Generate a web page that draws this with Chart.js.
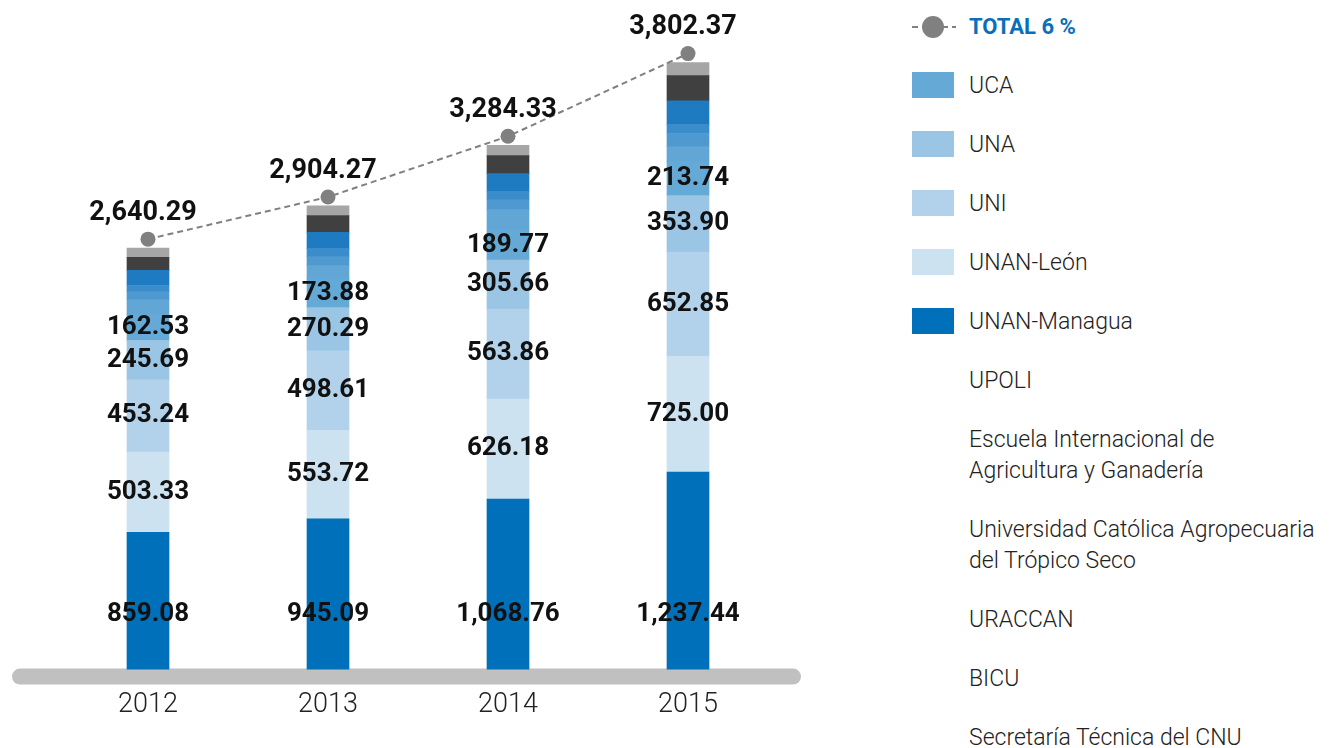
<!DOCTYPE html>
<html>
<head>
<meta charset="utf-8">
<script src="https://cdn.jsdelivr.net/npm/chart.js@4.4.0/dist/chart.umd.min.js"></script>
<style>
    body { margin: 0; background: #fff; width: 1333px; height: 748px; overflow: hidden; position: relative; font-family: Roboto, sans-serif; }
    #chartBox { position: absolute; left: 0; top: 0; width: 880px; height: 748px; }
    #legend { position: absolute; left: 912px; top: 11px; }
    .item { display: flex; align-items: flex-start; margin-bottom: 28px; }
    .key { width: 42px; height: 26px; margin-right: 15px; margin-top: 2px; flex: none; }
    .name { font-size: 23px; font-weight: 300; line-height: 31px; color: #222; }
    .name.total { font-weight: 700; color: #0a6fba; font-size: 22px; }
</style>
</head>
<body>
<div id="chartBox"><canvas id="fundsChart"></canvas></div>
<div id="legend"></div>

<script>
const years = ['2012', '2013', '2014', '2015'];

// stacked from the bottom up
const unanManagua = [859.08, 945.09, 1068.76, 1237.44];
const unanLeon = [503.33, 553.72, 626.18, 725.00];
const uni = [453.24, 498.61, 563.86, 652.85];
const una = [245.69, 270.29, 305.66, 353.90];
const uca = [162.53, 173.88, 189.77, 213.74];
// small segments are not labelled
const upoli = [93, 89, 127, 93];
const eiag = [51, 56, 62, 82];
const ucatse = [38, 52, 53, 57];
const uraccan = [95, 101, 110, 148];
const bicu = [82, 105, 113, 158];
const secretaria = [57.42, 59.68, 65.10, 81.44];

const totals = [2640.29, 2904.27, 3284.33, 3802.37];

const seriesNames = [
    'UNAN-Managua', 'UNAN-León', 'UNI', 'UNA', 'UCA', 'UPOLI',
    'Escuela Internacional de\nAgricultura y Ganadería',
    'Universidad Católica Agropecuaria\ndel Trópico Seco',
    'URACCAN', 'BICU', 'Secretaría Técnica del CNU'
];
const seriesValues = [unanManagua, unanLeon, uni, una, uca, upoli, eiag, ucatse, uraccan, bicu, secretaria];
const seriesColors = ['#0070ba', '#cde2f1', '#b1d2ea', '#9bc5e5', '#65a9d7', '#62a6d6', '#4e99d0', '#3b8ccb', '#1f7bc1', '#404040', '#a6a6a6'];
const labelledSeries = 5;
const totalLabel = 'TOTAL 6 %';

Chart.defaults.font.family = "Roboto, 'Noto Sans', sans-serif";

function fmt(v) {
    return Number(v).toLocaleString('en-US', { minimumFractionDigits: 2, maximumFractionDigits: 2 });
}

const baselinePlugin = {
    id: 'baseline',
    beforeDatasetsDraw(chart) {
        const { ctx } = chart;
        const x = chart.scales.x;
        const y = chart.scales.y;
        const left = x.getPixelForValue(0) - 136;
        const right = x.getPixelForValue(years.length - 1) + 113;
        const top = y.bottom - 1;
        const h = 16;
        ctx.save();
        ctx.fillStyle = '#c0c0c0';
        ctx.beginPath();
        ctx.roundRect(left, top, right - left, h, h / 2);
        ctx.fill();
        ctx.restore();
    }
};

const valueLabelPlugin = {
    id: 'valueLabels',
    afterDatasetsDraw(chart) {
        const { ctx } = chart;
        const yScale = chart.scales.y;
        ctx.save();
        ctx.font = 'bold 26px Roboto';
        ctx.fillStyle = '#111';
        ctx.textAlign = 'center';
        ctx.textBaseline = 'middle';
        for (let i = 0; i < labelledSeries; i++) {
            const meta = chart.getDatasetMeta(i);
            meta.data.forEach((bar, j) => {
                const y = i === 0 ? yScale.bottom - 55 : (bar.y + bar.base) / 2;
                ctx.fillText(fmt(seriesValues[i][j]), bar.x, y);
            });
        }
        ctx.font = 'bold 27px Roboto';
        const lineMeta = chart.getDatasetMeta(seriesValues.length);
        lineMeta.data.forEach((pt, j) => {
            ctx.fillText(fmt(totals[j]), pt.x - 5, pt.y - 26);
        });
        ctx.restore();
    }
};

const barSets = seriesValues.map((data, i) => ({
    type: 'bar',
    label: seriesNames[i],
    data,
    backgroundColor: seriesColors[i],
    borderWidth: 0,
    barThickness: 42,
    yAxisID: 'y',
    order: 1
}));

const totalSet = {
    type: 'line',
    label: totalLabel,
    data: totals,
    borderColor: '#808080',
    borderWidth: 2,
    borderDash: [6, 4],
    pointRadius: 7.5,
    pointBackgroundColor: '#808080',
    pointBorderWidth: 0,
    yAxisID: 'yLine',
    order: 0
};

new Chart(document.getElementById('fundsChart'), {
    data: { labels: years, datasets: [...barSets, totalSet] },
    options: {
        responsive: true,
        maintainAspectRatio: false,
        animation: false,
        layout: { padding: { left: 58, right: 102, top: 31, bottom: 16 } },
        plugins: { legend: { display: false }, tooltip: { enabled: false } },
        scales: {
            x: {
                stacked: true,
                grid: { display: false },
                border: { display: false },
                ticks: { color: '#222', padding: 11, font: { size: 27, weight: 300 } }
            },
            y: { stacked: true, display: false, min: 0, max: 4000 },
            yLine: { display: false, min: -56, max: 3944 }
        }
    },
    plugins: [baselinePlugin, valueLabelPlugin]
});

function buildLegend() {
    const box = document.getElementById('legend');
    const rows = [];
    rows.push(`<div class="item"><svg class="key" width="44" height="26" viewBox="0 0 44 26" style="width:44px;margin-right:13px">
        <line x1="0" y1="14" x2="44" y2="14" stroke="#808080" stroke-width="2" stroke-dasharray="6 4"/>
        <circle cx="21" cy="14" r="11" fill="#808080"/></svg><span class="name total">${totalLabel}</span></div>`);
    const order = [4, 3, 2, 1, 0, 5, 6, 7, 8, 9, 10];
    order.forEach((i) => {
        const swatch = i < labelledSeries ? seriesColors[i] : 'transparent';
        const text = seriesNames[i].replace('\n', '<br>');
        rows.push(`<div class="item"><span class="key" style="background:${swatch}"></span><span class="name">${text}</span></div>`);
    });
    box.innerHTML = rows.join('');
}

buildLegend();
</script>
</body>
</html>
